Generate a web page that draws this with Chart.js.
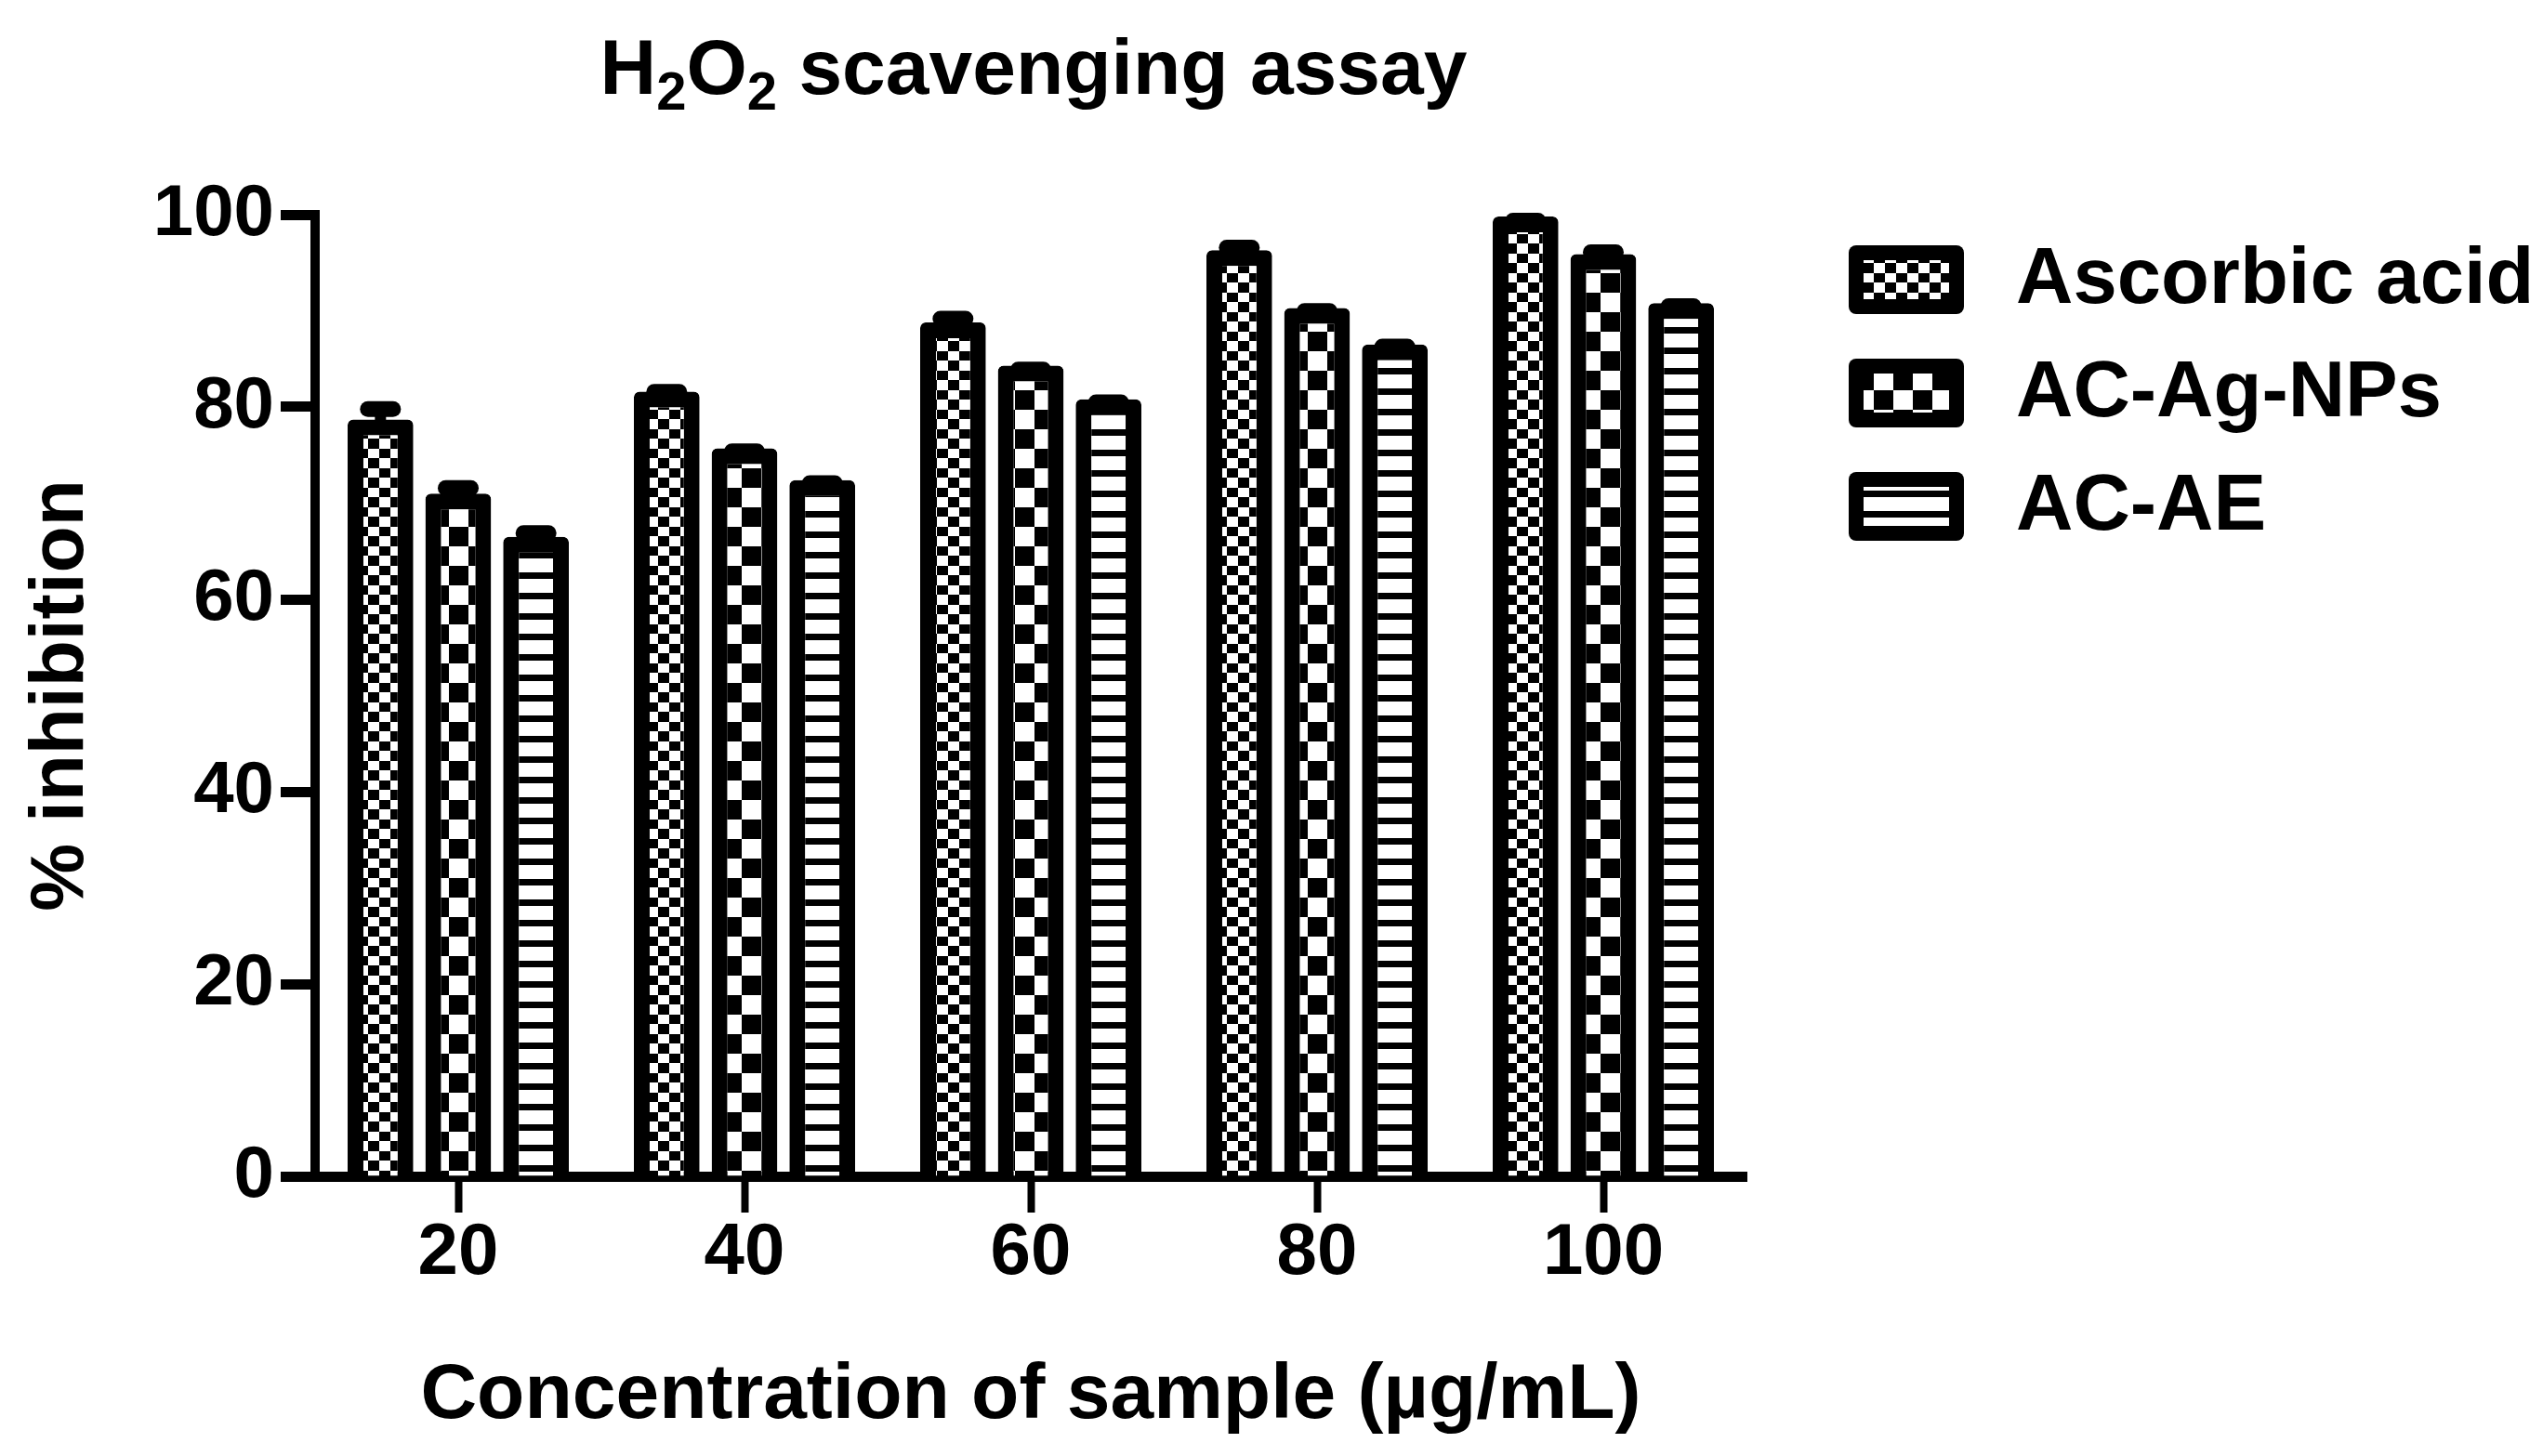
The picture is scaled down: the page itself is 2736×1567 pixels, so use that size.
<!DOCTYPE html>
<html>
<head>
<meta charset="utf-8">
<script src="https://cdn.jsdelivr.net/npm/chart.js@4.4.1/dist/chart.umd.min.js"></script>
<style>
  html, body { margin: 0; padding: 0; background: #fff; }
  canvas { display: block; }
</style>
</head>
<body>
<canvas id="chart" width="2736" height="1567"></canvas>
<script>
// values (% inhibition)
const categories = ['20', '40', '60', '80', '100'];
const seriesNames = ['Ascorbic acid', 'AC-Ag-NPs', 'AC-AE'];
const ascorbic = [78.7, 81.6, 88.8, 96.3, 99.8];
const agNps = [71.0, 75.7, 84.3, 90.3, 95.9];
const acAe = [66.5, 72.4, 80.8, 86.5, 90.8];
const ascorbicSd = [1.9, 0.8, 1.2, 1.1, 0.4];
const agNpsSd = [1.4, 0.5, 0.4, 0.5, 1.0];
const acAeSd = [1.2, 0.5, 0.5, 0.6, 0.5];

// title pieces: [text, isSubscript]
const titleParts = [['H', false], ['2', true], ['O', false], ['2', true], [' scavenging assay', false]];

const FONT = '"Liberation Sans", Arial, sans-serif';
Chart.defaults.font.family = FONT;
Chart.defaults.color = '#000';

const canvas = document.getElementById('chart');
const ctx = canvas.getContext('2d');

function makePattern(w, h, draw) {
    const c = document.createElement('canvas');
    c.width = w;
    c.height = h;
    const g = c.getContext('2d');
    g.fillStyle = '#fff';
    g.fillRect(0, 0, w, h);
    g.fillStyle = '#000';
    draw(g);
    return ctx.createPattern(c, 'repeat');
}

const fineChecker = makePattern(24, 21, g => {
    g.fillRect(0, 0, 12, 10);
    g.fillRect(12, 10, 12, 11);
});
const coarseChecker = makePattern(42, 42, g => {
    g.fillRect(0, 0, 21, 21);
    g.fillRect(21, 21, 21, 21);
});
const stripes = makePattern(8, 22, g => {
    g.fillRect(0, 0, 8, 7);
});
const patterns = [fineChecker, coarseChecker, stripes];

const errorBars = {
    id: 'errorBars',
    afterDatasetsDraw(chart) {
        const c = chart.ctx;
        const y = chart.scales.y;
        chart.data.datasets.forEach((ds, i) => {
            chart.getDatasetMeta(i).data.forEach((bar, j) => {
                const top = y.getPixelForValue(ds.data[j] + ds.sd[j]);
                c.save();
                c.strokeStyle = '#000';
                c.lineWidth = 12;
                c.beginPath();
                c.moveTo(bar.x, bar.y + 10);
                c.lineTo(bar.x, top + 8.5);
                c.stroke();
                c.lineWidth = 17;
                c.lineCap = 'round';
                c.beginPath();
                c.moveTo(bar.x - 13.5, top + 8.5);
                c.lineTo(bar.x + 13.5, top + 8.5);
                c.stroke();
                c.restore();
            });
        });
    }
};

function roundRect(c, x, y, w, h, r) {
    c.beginPath();
    c.moveTo(x + r, y);
    c.arcTo(x + w, y, x + w, y + h, r);
    c.arcTo(x + w, y + h, x, y + h, r);
    c.arcTo(x, y + h, x, y, r);
    c.arcTo(x, y, x + w, y, r);
    c.closePath();
}

const sideLegend = {
    id: 'sideLegend',
    afterDraw(chart) {
        const c = chart.ctx;
        chart.data.datasets.forEach((ds, i) => {
            const cy = 301 + i * 122;
            c.save();
            c.fillStyle = '#000';
            roundRect(c, 1989, cy - 37, 124, 74, 8);
            c.fill();
            c.fillStyle = ds.backgroundColor;
            c.fillRect(2005, cy - 21, 92, 42);
            c.fillStyle = '#000';
            c.font = 'bold 85px ' + FONT;
            c.textBaseline = 'middle';
            c.textAlign = 'left';
            c.fillText(ds.label, 2169, cy + 2);
            c.restore();
        });
    }
};

// chart title with real subscripts
const subTitle = {
    id: 'subTitle',
    afterDraw(chart) {
        const c = chart.ctx;
        const area = chart.chartArea;
        const big = 'bold 84px ' + FONT;
        const small = 'bold 58px ' + FONT;
        c.save();
        c.fillStyle = '#000';
        c.textBaseline = 'alphabetic';
        c.textAlign = 'left';
        let total = 0;
        titleParts.forEach(([t, sub]) => {
            c.font = sub ? small : big;
            total += c.measureText(t).width;
        });
        let x = (area.left + area.right) / 2 + 3 - total / 2;
        titleParts.forEach(([t, sub]) => {
            c.font = sub ? small : big;
            c.fillText(t, x, sub ? 118 : 101);
            x += c.measureText(t).width;
        });
        c.restore();
    }
};

const dataSets = [ascorbic, agNps, acAe];
const sdSets = [ascorbicSd, agNpsSd, acAeSd];

new Chart(ctx, {
    type: 'bar',
    data: {
        labels: categories,
        datasets: seriesNames.map((name, i) => ({
            label: name,
            data: dataSets[i],
            sd: sdSets[i],
            backgroundColor: patterns[i],
            borderColor: '#000',
            borderWidth: 17,
            borderSkipped: 'start',
            borderRadius: { topLeft: 6, topRight: 6 },
            categoryPercentage: 0.815,
            barPercentage: 0.845
        }))
    },
    options: {
        responsive: false,
        devicePixelRatio: 1,
        animation: false,
        layout: { padding: { left: 0, right: 857, top: 231, bottom: 0 } },
        plugins: {
            legend: { display: false },
            tooltip: { enabled: false },
            title: { display: false }
        },
        scales: {
            x: {
                offset: true,
                afterFit: scale => { scale.height = 301; },
                grid: {
                    offset: false,
                    drawOnChartArea: false,
                    drawTicks: true,
                    tickLength: 39,
                    tickWidth: 8,
                    tickColor: '#000'
                },
                border: { display: true, color: '#000', width: 11 },
                ticks: {
                    color: '#000',
                    padding: 5,
                    font: { size: 78, weight: 'bold', lineHeight: 1 }
                },
                title: {
                    display: true,
                    text: 'Concentration of sample (\u00b5g/mL)',
                    color: '#000',
                    font: { size: 84, weight: 'bold' },
                    padding: { top: 0, bottom: 14 }
                }
            },
            y: {
                min: 0,
                max: 100,
                afterFit: scale => { scale.width = 339; },
                grid: {
                    drawOnChartArea: false,
                    drawTicks: true,
                    tickLength: 37,
                    tickWidth: 11,
                    tickColor: '#000'
                },
                border: { display: true, color: '#000', width: 10 },
                ticks: {
                    stepSize: 20,
                    color: '#000',
                    padding: 7,
                    font: { size: 78, weight: 'bold' }
                },
                title: {
                    display: true,
                    text: '% inhibition',
                    color: '#000',
                    font: { size: 82, weight: 'bold' },
                    padding: { top: 17, bottom: 0 }
                }
            }
        }
    },
    plugins: [errorBars, sideLegend, subTitle]
});
</script>
</body>
</html>
